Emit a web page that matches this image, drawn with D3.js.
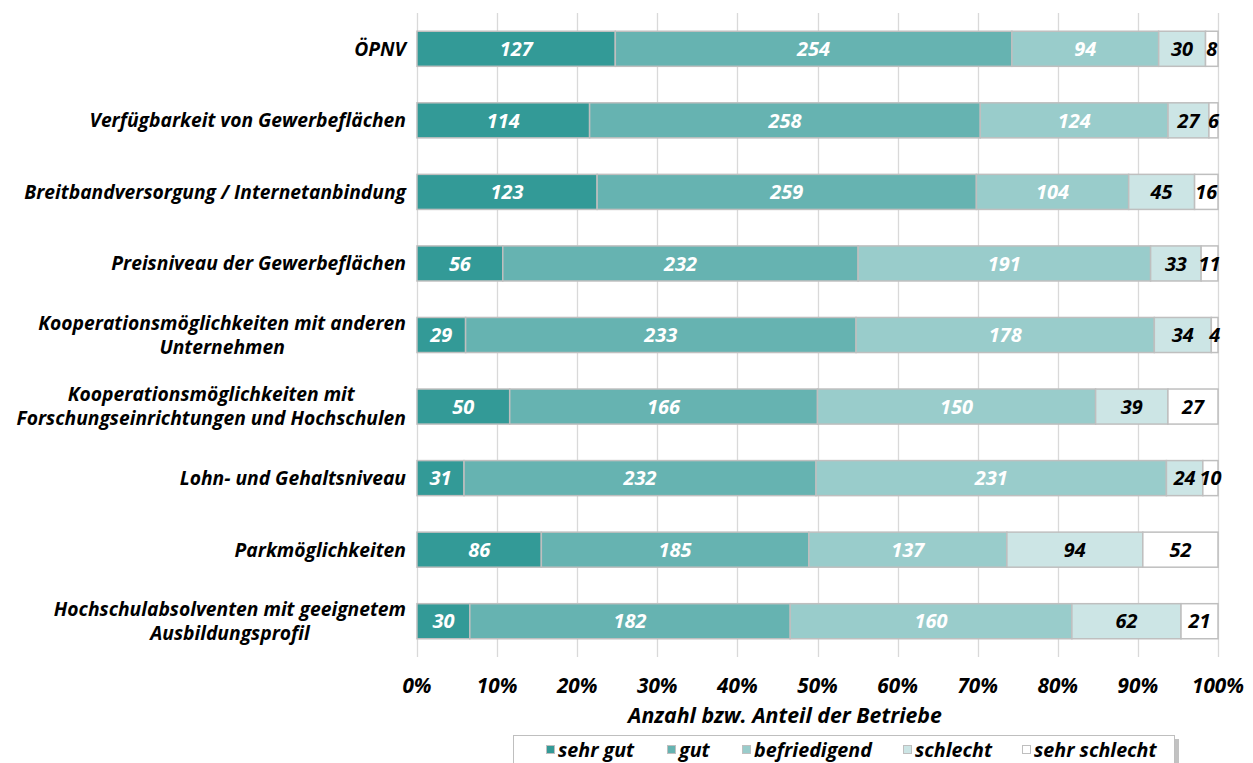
<!DOCTYPE html>
<html><head><meta charset="utf-8">
<script src="https://cdn.jsdelivr.net/npm/d3@7"></script>
<style>body{margin:0;background:#fff}svg{display:block}</style>
</head><body>
<svg id="c" width="1253" height="763"></svg>
<script>
const categories = [
  ["ÖPNV "],
  ["Verfügbarkeit von Gewerbeflächen"],
  ["Breitbandversorgung / Internetanbindung"],
  ["Preisniveau der Gewerbeflächen"],
  ["Kooperationsmöglichkeiten mit anderen", "Unternehmen"],
  ["Kooperationsmöglichkeiten mit", "Forschungseinrichtungen und Hochschulen"],
  ["Lohn- und Gehaltsniveau"],
  ["Parkmöglichkeiten"],
  ["Hochschulabsolventen mit geeignetem", "Ausbildungsprofil"]
];
const seriesNames = ["sehr gut", "gut", "befriedigend", "schlecht", "sehr schlecht"];
const sehrGut      = [127, 114, 123, 56, 29, 50, 31, 86, 30];
const gut          = [254, 258, 259, 232, 233, 166, 232, 185, 182];
const befriedigend = [94, 124, 104, 191, 178, 150, 231, 137, 160];
const schlecht     = [30, 27, 45, 33, 34, 39, 24, 94, 62];
const sehrSchlecht = [8, 6, 16, 11, 4, 27, 10, 52, 21];
const tickLabels = ["0%","10%","20%","30%","40%","50%","60%","70%","80%","90%","100%"];
const axisTitle = "Anzahl bzw. Anteil der Betriebe";

const colors = ["#339a97", "#66b3b1", "#99cccb", "#cce5e5", "#ffffff"];
const labelColors = ["#fff", "#fff", "#fff", "#000", "#000"];
const FONT = "'Open Sans', sans-serif";

const seriesVals = [sehrGut, gut, befriedigend, schlecht, sehrSchlecht];
const rows = categories.map((c, i) => {
  const r = {idx: i};
  seriesNames.forEach((s, k) => r[s] = seriesVals[k][i]);
  return r;
});

const svg = d3.select("#c");

function styleText(sel) {
  return sel.attr("font-family", FONT).attr("font-weight", "bold").attr("font-style", "italic");
}
// find font size so that a sample string renders at a target width
function fitSize(sample, targetW) {
  const t = styleText(svg.append("text")).attr("font-size", 100).text(sample);
  const w = t.node().getComputedTextLength();
  t.remove();
  return 100 * targetW / w;
}
const catSize = fitSize("Breitbandversorgung / Internetanbindung", 382);
const valSize = fitSize("127", 33);
const tickSize = fitSize("100%", 52);
const titleSize = fitSize(axisTitle, 314);
const legSize = fitSize("befriedigend", 118);

const pLeft = 417, pRight = 1218, pTop = 13, pBottom = 657;
const x = d3.scaleLinear().domain([0, 1]).range([pLeft, pRight]);
const y = d3.scaleBand().domain(d3.range(categories.length)).range([pTop, pBottom]).paddingInner(0.51).paddingOuter(0.255);

// gridlines
svg.append("g").selectAll("line").data(d3.range(0, 1.0001, 0.1)).join("line")
  .attr("x1", d => Math.round(x(d)) + 0.5).attr("x2", d => Math.round(x(d)) + 0.5)
  .attr("y1", pTop).attr("y2", pBottom)
  .attr("stroke", "#d9d9d9").attr("stroke-width", 1.3);

// stacks
const stack = d3.stack().keys(seriesNames).offset(d3.stackOffsetExpand);
const stacked = stack(rows);

const g = svg.append("g");
stacked.forEach((layer, k) => {
  g.append("g").selectAll("rect").data(layer).join("rect")
    .attr("x", d => x(d[0]))
    .attr("y", (d, i) => y(i))
    .attr("width", d => x(d[1]) - x(d[0]))
    .attr("height", y.bandwidth())
    .attr("fill", colors[k])
    .attr("stroke", "#bfbfbf").attr("stroke-width", 1.5);
});
stacked.forEach((layer, k) => {
  styleText(g.append("g").selectAll("text").data(layer).join("text"))
    .attr("x", d => (x(d[0]) + x(d[1])) / 2)
    .attr("y", (d, i) => y(i) + y.bandwidth() / 2)
    .attr("dy", "0.36em")
    .attr("text-anchor", "middle")
    .attr("font-size", valSize)
    .attr("fill", labelColors[k])
    .text(d => d.data[seriesNames[k]]);
});

// category labels (one text element per line)
const catG = svg.append("g");
categories.forEach((lines, i) => {
  const cy = y(i) + y.bandwidth() / 2;
  const lh = 24;
  const n = lines.length;
  const ts = lines.map((l, j) => styleText(catG.append("text")).attr("font-size", catSize).attr("fill", "#000")
    .attr("y", cy + (j - (n - 1) / 2) * lh).attr("dy", "0.36em").attr("text-anchor", "middle").text(l));
  const maxW = d3.max(ts, t => t.node().getComputedTextLength());
  const cx = 406 - maxW / 2;
  ts.forEach(t => t.attr("x", cx));
});

// x tick labels
styleText(svg.append("g").selectAll("text").data(tickLabels).join("text"))
  .attr("x", (d, i) => x(i / 10))
  .attr("y", 693)
  .attr("text-anchor", "middle")
  .attr("font-size", tickSize).text(d => d);

styleText(svg.append("text")).attr("x", 785).attr("y", 723).attr("text-anchor", "middle")
  .attr("font-size", titleSize).text(axisTitle);

// legend
const lg = svg.append("g");
lg.append("rect").attr("x", 517).attr("y", 739).attr("width", 662).attr("height", 40).attr("fill", "#9a9a9a").attr("opacity", 0.6);
lg.append("rect").attr("x", 513.5).attr("y", 735.5).attr("width", 661).attr("height", 40).attr("fill", "#fff").attr("stroke", "#bfbfbf");
const legendX = [546, 667, 742, 903, 1022];
seriesNames.forEach((s, k) => {
  lg.append("rect").attr("x", legendX[k] + 0.5).attr("y", 745.5).attr("width", 8).attr("height", 8)
    .attr("fill", colors[k]).attr("stroke", "#bfbfbf").attr("stroke-width", 1);
  styleText(lg.append("text")).attr("x", legendX[k] + 12).attr("y", 749.5).attr("dy", "0.36em")
    .attr("font-size", legSize).text(s);
});
</script>
</body></html>
